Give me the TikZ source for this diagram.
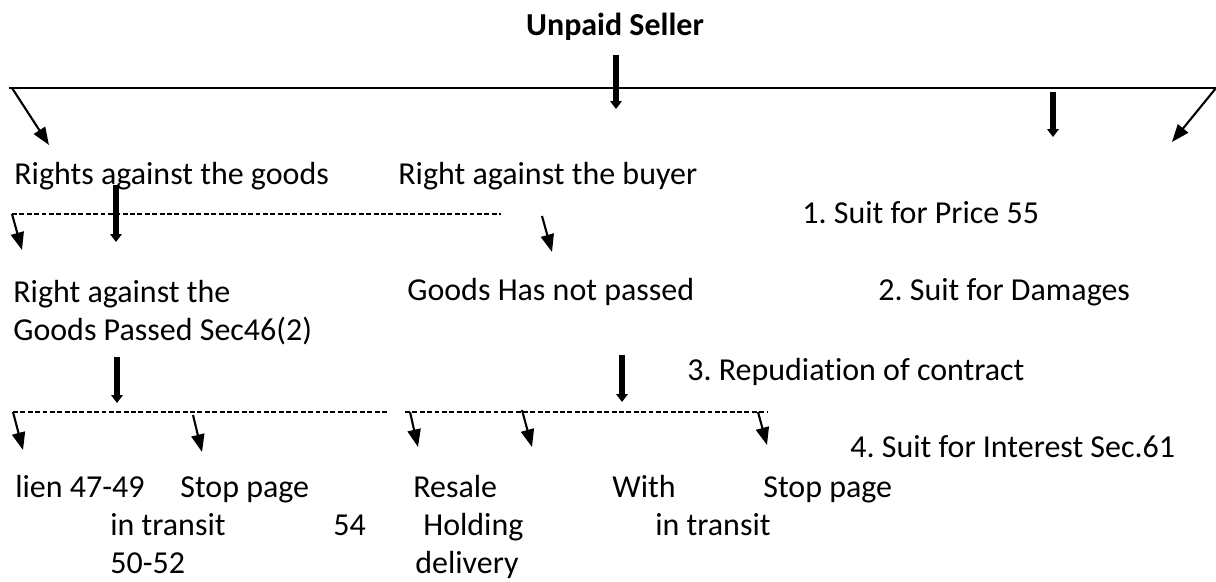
\documentclass[tikz,border=0pt]{standalone}
\usepackage{fontspec}
\setmainfont{Carlito}[Ligatures=NoCommon]
\usepackage{tikz}
\usetikzlibrary{arrows.meta}
\frenchspacing

\begin{document}
\begin{tikzpicture}[x=0.02cm,y=-0.02cm,
	txt/.style={anchor=base west,inner sep=0pt,font=\fontsize{18.2}{21.6}\selectfont},
	head/.style={anchor=base,inner sep=0pt,font=\fontsize{18.2}{21.6}\selectfont\bfseries},
	bar/.style={line width=3.4pt,-{Triangle[width=6.5pt,length=4.5pt]}},
	thin/.style={line width=1.2pt,-{Triangle[width=7.5pt,length=10pt]}},
	dashline/.style={line width=0.9pt,dash pattern=on 2.8pt off 1.4pt}]
\useasboundingbox (0,0) rectangle (1216,581);
\path (615,36) node[head] (seller) {Unpaid Seller};
\coordinate (mL) at (9,88); \coordinate (mR) at (1216,88);
\path[draw][line width=1.1pt] (mL) -- (mR);
\coordinate (s0) at (616,55); \coordinate (s1) at (616,109);
\path[draw][bar] (s0) -- (s1);
\coordinate (g0) at (12,88); \coordinate (g1) at (49,145);
\path[draw][thin] (g0) -- (g1);
\coordinate (p0) at (1053,92); \coordinate (p1) at (1053,137);
\path[draw][bar] (p0) -- (p1);
\coordinate (q0) at (1216,88); \coordinate (q1) at (1172,142);
\path[draw][thin] (q0) -- (q1);
\path (14,184) node[txt] (rights) {Rights against the goods};
\path (398,184) node[txt] (buyer) {Right against the buyer};
\path (802,223) node[txt] (price) {1. Suit for Price 55};
\coordinate (d1L) at (12,214); \coordinate (d1R) at (501,214);
\path[draw][dashline] (d1L) -- (d1R);
\coordinate (r0) at (116,185); \coordinate (r1) at (116,242);
\path[draw][bar] (r0) -- (r1);
\coordinate (a0) at (12,214); \coordinate (a1) at (22,250);
\path[draw][thin] (a0) -- (a1);
\coordinate (b0) at (542,216); \coordinate (b1) at (552,252);
\path[draw][thin] (b0) -- (b1);
\path (13,302) node[txt] (passedA) {Right against the};
\path (13,340) node[txt] (passedB) {Goods Passed Sec46(2)};
\path (407,300) node[txt] (notpassed) {Goods Has not passed};
\path (878,300) node[txt] (damages) {2. Suit for Damages};
\path (687,380) node[txt] (repud) {3. Repudiation of contract};
\coordinate (u0) at (117,357); \coordinate (u1) at (117,403);
\path[draw][bar] (u0) -- (u1);
\coordinate (v0) at (622,355); \coordinate (v1) at (622,402);
\path[draw][bar] (v0) -- (v1);
\coordinate (d2L) at (13,412); \coordinate (d2R) at (387,412);
\path[draw][dashline] (d2L) -- (d2R);
\coordinate (d3L) at (405,412); \coordinate (d3R) at (767,412);
\path[draw][dashline] (d3L) -- (d3R);
\coordinate (c0) at (13,412); \coordinate (c1) at (23,450);
\path[draw][thin] (c0) -- (c1);
\coordinate (e0) at (193,415); \coordinate (e1) at (202,452);
\path[draw][thin] (e0) -- (e1);
\coordinate (f0) at (410,412); \coordinate (f1) at (418,447);
\path[draw][thin] (f0) -- (f1);
\coordinate (h0) at (522,410); \coordinate (h1) at (532,447);
\path[draw][thin] (h0) -- (h1);
\coordinate (k0) at (758,412); \coordinate (k1) at (767,445);
\path[draw][thin] (k0) -- (k1);
\path (850,457) node[txt] (interest) {4. Suit for Interest Sec.61};
\path (15,497) node[txt] (lien) {lien 47-49};
\path (180,497) node[txt] (stopA) {Stop page};
\path (110,535) node[txt] (transitA) {in transit};
\path (333,535) node[txt] (secA) {54};
\path (110,573) node[txt] (secB) {50-52};
\path (413,497) node[txt] (resale) {Resale};
\path (423,535) node[txt] (holding) {Holding};
\path (415,573) node[txt] (delivery) {delivery};
\path (612,497) node[txt] (with) {With};
\path (655,535) node[txt] (transitB) {in transit};
\path (763,497) node[txt] (stopB) {Stop page};
\end{tikzpicture}
\end{document}
